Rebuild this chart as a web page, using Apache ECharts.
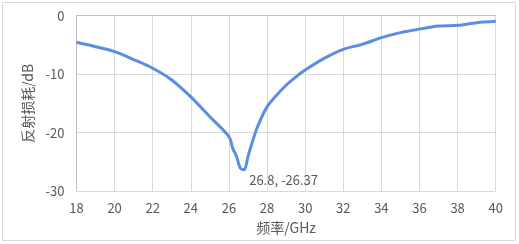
<!DOCTYPE html>
<html><head><meta charset="utf-8">
<script src="https://cdn.jsdelivr.net/npm/echarts@6/dist/echarts.min.js"></script>
<style>html,body{margin:0;padding:0;background:#fff}#c{width:519px;height:244px}</style>
</head><body><div id="c"></div>
<script>
var freq = [18, 19, 20, 21, 22, 23, 24, 25, 26, 26.2, 26.4, 26.6, 26.8, 27, 27.2, 27.5, 28, 28.5, 29, 29.5, 30, 31, 32, 33, 34, 35, 36, 37, 38, 39, 40];
var rl = [-4.55, -5.3, -6.16, -7.5, -9.0, -11.0, -13.9, -17.3, -20.7, -22.7, -24.1, -26.1, -26.37, -24.1, -21.9, -19.0, -15.6, -13.6, -11.9, -10.5, -9.3, -7.3, -5.75, -4.9, -3.76, -2.9, -2.3, -1.76, -1.65, -1.2, -0.96];
var xTicks = [18, 20, 22, 24, 26, 28, 30, 32, 34, 36, 38, 40];
var yTicks = [0, -10, -20, -30];
var markIndex = 12;
var markText = '26.8, -26.37';

var font = '"Noto Sans CJK SC", "Noto Sans", sans-serif';
var data = freq.map(function (f, i) { return [f, rl[i]]; });
var chart = echarts.init(document.getElementById('c'));
chart.setOption({
  animation: false,
  graphic: [{ type: 'rect', shape: { x: 2.5, y: 2.5, width: 513, height: 238 },
    style: { fill: 'none', stroke: '#d9d9d9', lineWidth: 1 } }],
  grid: { left: 76.5, right: 23.3, top: 15.7, bottom: 53 },
  xAxis: {
    type: 'value', min: xTicks[0], max: xTicks[xTicks.length - 1], interval: 2,
    name: '频率/GHz', nameLocation: 'middle', nameGap: 30,
    nameTextStyle: { color: '#595959', fontSize: 14, fontFamily: font },
    axisLine: { show: true, lineStyle: { color: '#bfbfbf', width: 1 } },
    axisTick: { show: false },
    axisLabel: { color: '#595959', fontSize: 13, fontFamily: font, margin: 11 },
    splitLine: { show: true, lineStyle: { color: '#d9d9d9', width: 1 } }
  },
  yAxis: {
    type: 'value', min: yTicks[yTicks.length - 1], max: yTicks[0], interval: 10,
    name: '反射损耗/dB', nameLocation: 'middle', nameGap: 39, nameRotate: 90,
    nameTextStyle: { color: '#595959', fontSize: 14, fontFamily: font },
    axisLine: { show: true, onZero: false, lineStyle: { color: '#bfbfbf', width: 1 } },
    axisTick: { show: false },
    axisLabel: { color: '#595959', fontSize: 13, fontFamily: font, margin: 12 },
    splitLine: { show: true, lineStyle: { color: '#d9d9d9', width: 1 } }
  },
  series: [{
    type: 'line', data: data, smooth: 0.3, showSymbol: false, symbol: 'none',
    lineStyle: { color: '#5b8ee0', width: 3 },
    markPoint: {
      symbol: 'circle', symbolSize: 0, silent: true,
      data: [{ coord: [freq[markIndex], rl[markIndex]],
        label: { show: true, position: 'right', offset: [0, 10], formatter: markText,
          color: '#595959', fontSize: 13, fontFamily: font } }]
    }
  }]
});
</script></body></html>
